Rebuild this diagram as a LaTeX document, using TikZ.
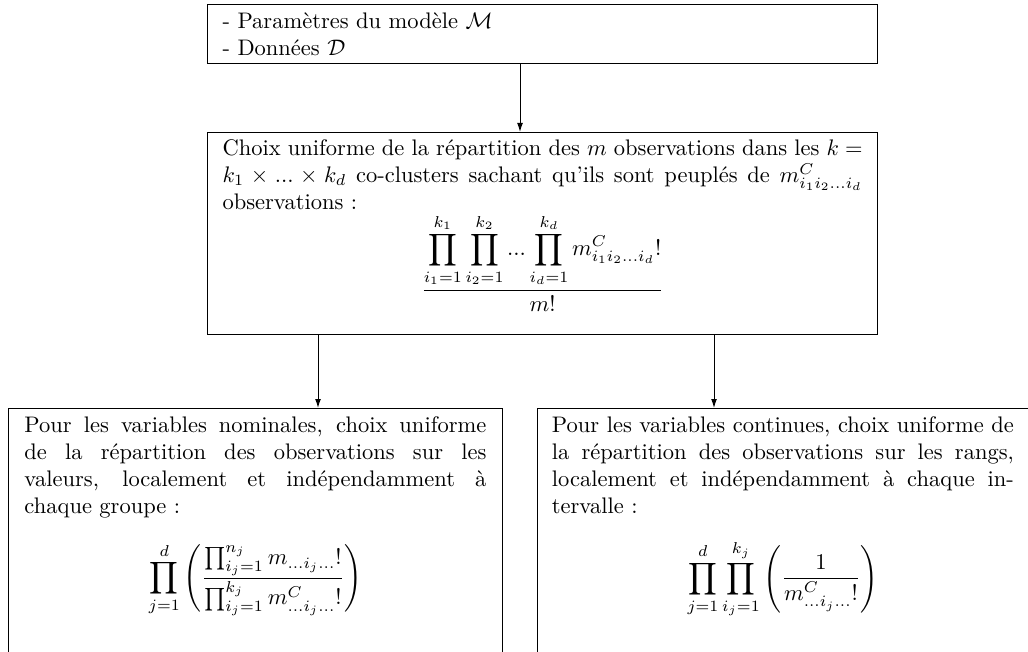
\documentclass[tikz,border=0pt]{standalone}
\usetikzlibrary{arrows.meta}
\begin{document}
\begin{tikzpicture}[x=0.4444pt,y=-0.4444pt,
  box/.style={draw, line width=0.45pt, anchor=north west, inner ysep=0pt, align=justify},
  conn/.style={line width=0.45pt, -{Latex[length=4pt,width=2.6pt]}}]
\useasboundingbox (0,0) rectangle (1028,651);

\node[box, align=left, text width=284.5pt, inner xsep=6.67pt, text height=10.67pt, text depth=15.56pt] (top) at (207,4)
  {- Paramètres du modèle $\mathcal{M}$\\- Données $\mathcal{D}$};

\node[box, text width=284.5pt, inner xsep=6.67pt, text height=10.2pt, text depth=79.6pt] (mid) at (207,132)
  {\setlength{\abovedisplayskip}{1pt}\setlength{\abovedisplayshortskip}{1pt}%
   Choix uniforme de la répartition des $m$ observations dans les $k =$\linebreak
   $k_1 \times ... \times k_d$ co-clusters sachant qu'ils sont peuplés de $m^C_{i_1 i_2 ... i_d}$\linebreak
   observations :
   \[\frac{\displaystyle\prod_{i_1=1}^{k_1}\prod_{i_2=1}^{k_2} ... \prod_{i_d=1}^{k_d} m^C_{i_1 i_2 ... i_d}!}{m!}\]};

\node[box, text width=205.3pt, inner xsep=7.1pt, text height=10.67pt, text depth=150pt] (bl) at (8,408)
  {\setlength{\abovedisplayskip}{10pt}\setlength{\abovedisplayshortskip}{10pt}%
   Pour les variables nominales, choix uniforme\linebreak
   de la répartition des observations sur les\linebreak
   valeurs, localement et indépendamment à\linebreak
   chaque groupe :
   \[\prod_{j=1}^{d}\left(\frac{\prod_{i_j=1}^{n_j} m_{...i_j...}!}{\prod_{i_j=1}^{k_j} m^C_{...i_j...}!}\right)\]};

\node[box, text width=205.3pt, inner xsep=6.4pt, text height=10.67pt, text depth=150pt] (br) at (537,408)
  {\setlength{\abovedisplayskip}{11pt}\setlength{\abovedisplayshortskip}{11pt}%
   Pour les variables continues, choix uniforme de\linebreak
   la répartition des observations sur les rangs,\linebreak
   localement et indépendamment à chaque in-\linebreak
   tervalle :
   \[\prod_{j=1}^{d}\prod_{i_j=1}^{k_j}\left(\frac{1}{m^C_{...i_j...}!}\right)\]};

\coordinate (a0) at (520,0);
\coordinate (a1) at (318,0);
\coordinate (a2) at (714,0);
\draw[conn] (top.south -| a0) -- (mid.north -| a0);
\draw[conn] (mid.south -| a1) -- (bl.north -| a1);
\draw[conn] (mid.south -| a2) -- (br.north -| a2);
\end{tikzpicture}
\end{document}
